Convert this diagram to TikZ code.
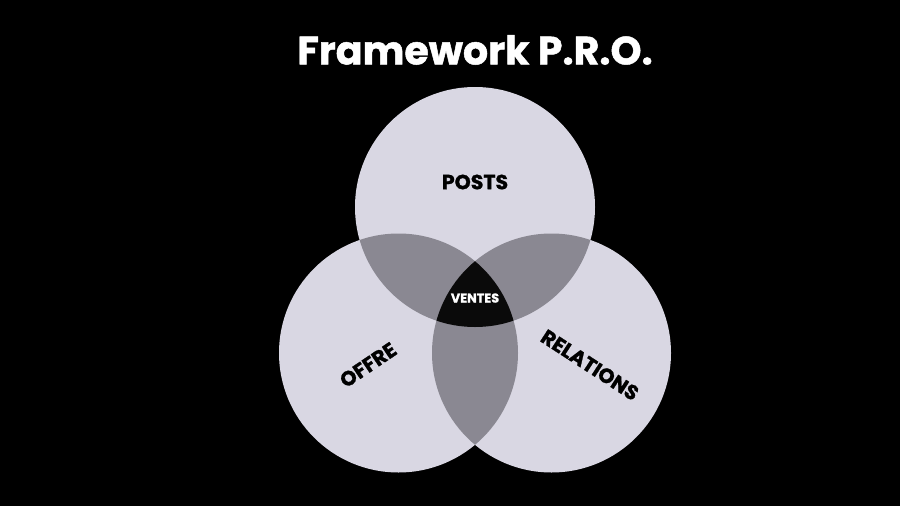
\documentclass[tikz,border=0pt]{standalone}
\usepackage{fontspec}
\setmainfont{Poppins}[BoldFeatures={FakeBold=1.2}]
\definecolor{light}{RGB}{217,215,227}
\definecolor{mid}{RGB}{138,136,146}
\definecolor{dark}{RGB}{10,10,10}
\tikzset{
  lbl/.style={font=\bfseries\fontsize{20.5}{20.5}\selectfont, text=black, inner sep=0pt},
  ttl/.style={font=\bfseries\fontsize{39.5}{39.5}\selectfont, text=white, inner sep=0pt},
}
\begin{document}
\begin{tikzpicture}[x=1pt,y=-1pt]
\fill[black] (0,0) rectangle (900,506);
\useasboundingbox (0,0) rectangle (900,506);
\def\ctop{(475,207) circle[radius=120]}
\def\cleft{(398.5,353) circle[radius=119.5]}
\def\cright{(551.5,353) circle[radius=119.5]}
\fill[light] \ctop;
\fill[light] \cleft;
\fill[light] \cright;
\begin{scope}\clip \ctop; \fill[mid] \cleft; \fill[mid] \cright; \end{scope}
\begin{scope}\clip \cleft; \fill[mid] \cright; \end{scope}
\begin{scope}\clip \ctop; \clip \cleft; \fill[dark] \cright; \end{scope}
\node[ttl] (title) at (475,50) {Framework P.R.O.};
\node[lbl] (posts) at (475,182) {POSTS};
\node[lbl, font=\bfseries\fontsize{12.8}{12.8}\selectfont, text=white] (ventes) at (475,298) {VENTES};
\node[lbl, rotate=34] (offre) at (368,365) {OFFRE};
\node[lbl, rotate=-33] (relations) at (590,365) {RELATIONS};
\end{tikzpicture}
\end{document}
